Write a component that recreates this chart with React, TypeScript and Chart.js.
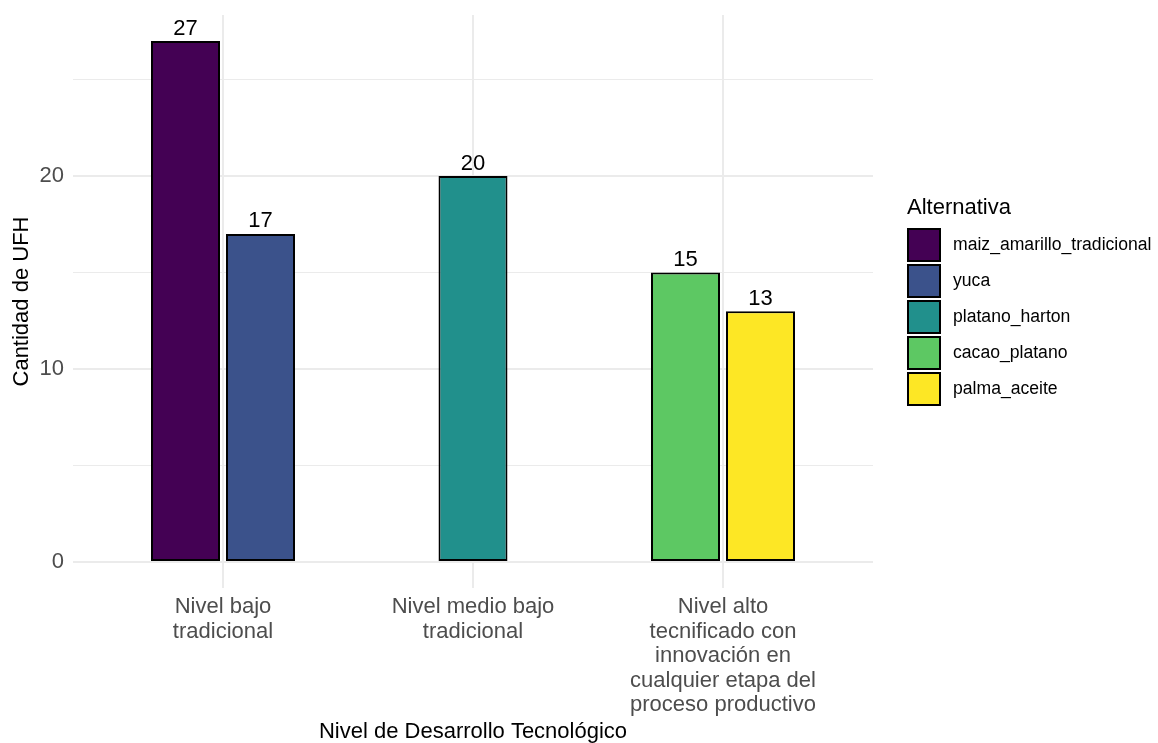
import React, { useEffect, useRef } from "react";
import { Chart, registerables } from "chart.js";

Chart.register(...registerables);

// ---------- data ----------
const categories: string[][] = [
  ["Nivel bajo", "tradicional"],
  ["Nivel medio bajo", "tradicional"],
  ["Nivel alto", "tecnificado con", "innovación en", "cualquier etapa del", "proceso productivo"],
];
const categoryPositions = [1, 2, 3];
const alternatives = ["maiz_amarillo_tradicional", "yuca", "platano_harton", "cacao_platano", "palma_aceite"];
const colors = ["#440154", "#3B528B", "#21908C", "#5DC863", "#FDE725"];
const maizValues = [27, null, null];
const yucaValues = [17, null, null];
const platanoValues = [null, 20, null];
const cacaoValues = [null, null, 15];
const palmaValues = [null, null, 13];
const seriesValues: (number | null)[][] = [maizValues, yucaValues, platanoValues, cacaoValues, palmaValues];
const yTickValues = [0, 5, 10, 15, 20, 25];
const yLabelledTicks = [0, 10, 20];
const yAxisTitle = "Cantidad de UFH";
const xAxisTitle = "Nivel de Desarrollo Tecnológico";
const legendTitle = "Alternativa";

const FONT = "'Liberation Sans', Arial, Helvetica, sans-serif";

const overlayPlugin = {
  id: "overlay",
  afterDatasetsDraw(chart: any) {
    const ctx = chart.ctx;
    ctx.save();
    ctx.fillStyle = "#000000";
    ctx.font = `22px ${FONT}`;
    ctx.textAlign = "center";
    ctx.textBaseline = "alphabetic";
    chart.data.datasets.forEach((ds: any, di: number) => {
      const meta = chart.getDatasetMeta(di);
      meta.data.forEach((el: any, i: number) => {
        const v = ds.data[i].y;
        if (v === null || v === undefined) return;
        ctx.fillText(String(v), el.x, el.y - 6.5);
      });
    });
    ctx.restore();
  },
  afterDraw(chart: any) {
    const ctx = chart.ctx;
    const area = chart.chartArea;
    const x0 = area.right + 34;
    const cy = (area.top + area.bottom) / 2;
    const box = 34;
    const pitch = 36;
    const boxesTop = cy - 73.5;
    ctx.save();
    ctx.fillStyle = "#000000";
    ctx.font = `22px ${FONT}`;
    ctx.textAlign = "left";
    ctx.textBaseline = "alphabetic";
    ctx.fillText(legendTitle, x0, boxesTop - 14);
    chart.data.datasets.forEach((ds: any, i: number) => {
      const top = boxesTop + i * pitch;
      ctx.fillStyle = ds.backgroundColor;
      ctx.fillRect(x0, top, box, box);
      ctx.strokeStyle = "#000000";
      ctx.lineWidth = 2;
      ctx.strokeRect(x0 + 1, top + 1, box - 2, box - 2);
      ctx.fillStyle = "#000000";
      ctx.font = `17.6px ${FONT}`;
      ctx.textBaseline = "middle";
      ctx.fillText(ds.label, x0 + 46, top + box / 2);
      ctx.textBaseline = "alphabetic";
    });
    ctx.restore();
  },
};

export default function App() {
  const ref = useRef<HTMLCanvasElement | null>(null);
  useEffect(() => {
    if (!ref.current) return;
    const datasets = alternatives.map((name, si) => ({
      label: name,
      data: categoryPositions.map((x, ci) => ({ x, y: seriesValues[si][ci] })),
      backgroundColor: colors[si],
      borderColor: "#000000",
      borderWidth: 2,
      borderSkipped: false,
      categoryPercentage: 0.6,
      barPercentage: 0.92,
      maxBarThickness: 69,
      skipNull: true,
    }));
    const chart = new Chart(ref.current, {
      type: "bar",
      data: { datasets } as any,
      options: {
        animation: false,
        responsive: false,
        devicePixelRatio: 1,
        layout: { padding: { top: 15, right: 285, left: 0, bottom: 0 } },
        plugins: { legend: { display: false }, tooltip: { enabled: false } },
        scales: {
          x: {
            type: "linear",
            min: 0.4,
            max: 3.6,
            offset: false,
            grid: { offset: false, color: "#ebebeb", lineWidth: 2, drawTicks: false },
            border: { display: false },
            afterBuildTicks: (scale: any) => {
              scale.ticks = categoryPositions.map((v) => ({ value: v }));
            },
            afterFit: (scale: any) => {
              scale.height = 155;
              scale.paddingLeft = 0;
              scale.paddingRight = 0;
            },
            ticks: {
              autoSkip: false,
              maxRotation: 0,
              minRotation: 0,
              padding: 7,
              color: "#4d4d4d",
              font: { family: FONT, size: 22, lineHeight: 1.11 },
              callback: (value: any) => {
                const idx = categoryPositions.indexOf(Number(value));
                return idx >= 0 ? categories[idx] : "";
              },
            },
            title: {
              display: true,
              text: xAxisTitle,
              color: "#000000",
              font: { family: FONT, size: 22, lineHeight: 1 },
              padding: { top: 0, bottom: 0 },
            },
          },
          y: {
            type: "linear",
            min: -1.35,
            max: 28.35,
            grid: {
              drawTicks: false,
              color: "#ebebeb",
              lineWidth: (c: any) => (c.tick && yLabelledTicks.includes(c.tick.value) ? 2 : 1),
            },
            border: { display: false },
            afterBuildTicks: (scale: any) => {
              scale.ticks = yTickValues.map((v) => ({ value: v }));
            },
            afterFit: (scale: any) => {
              scale.width = 73;
              scale.paddingTop = 0;
              scale.paddingBottom = 0;
            },
            ticks: {
              padding: 9,
              color: "#4d4d4d",
              font: { family: FONT, size: 22 },
              callback: (value: any) => (yLabelledTicks.includes(Number(value)) ? String(value) : ""),
            },
            title: {
              display: true,
              text: yAxisTitle,
              color: "#000000",
              font: { family: FONT, size: 22, lineHeight: 1 },
              padding: { top: 10.5, bottom: 0 },
            },
          },
        },
      } as any,
      plugins: [overlayPlugin],
    });
    return () => chart.destroy();
  }, []);
  return (
    <div style={{ position: "absolute", left: 0, top: 0, width: 1158, height: 743, background: "#ffffff" }}>
      <canvas ref={ref} width={1158} height={743} style={{ display: "block" }} />
    </div>
  );
}
